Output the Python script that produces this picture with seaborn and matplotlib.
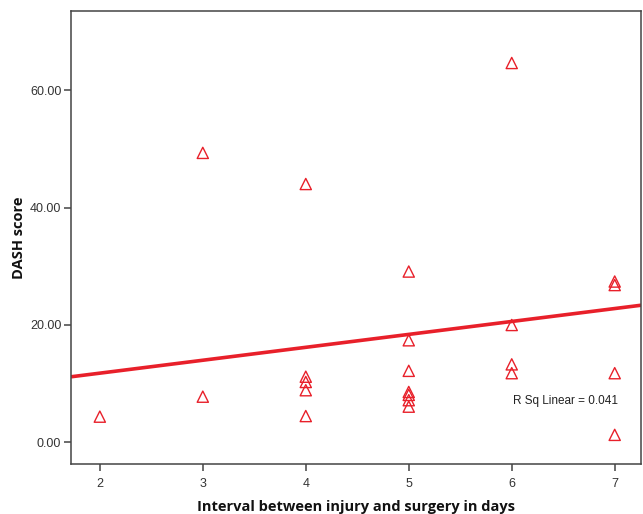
import matplotlib
matplotlib.use("Agg")
import matplotlib.pyplot as plt
import seaborn as sns
import numpy as np
import pandas as pd

# Data
interval_days = [2,
                 3, 3,
                 4, 4, 4, 4, 4,
                 5, 5, 5, 5, 5, 5, 5,
                 6, 6, 6, 6,
                 7, 7, 7, 7]
dash_score = [4.4,
              49.3, 7.8,
              44.0, 11.2, 10.3, 8.9, 4.5,
              29.1, 17.4, 12.2, 8.6, 8.1, 7.2, 6.1,
              64.6, 20.0, 13.3, 11.8,
              27.4, 26.8, 11.8, 1.3]
fit_intercept = 7.4
fit_slope = 2.2
r_sq_text = "R Sq Linear = 0.041"
x_ticks = [2, 3, 4, 5, 6, 7]
y_ticks = [0, 20, 40, 60]

df = pd.DataFrame({"interval": interval_days, "dash": dash_score})

sns.set_style("white")
plt.rcParams['font.family'] = ['Liberation Sans', 'DejaVu Sans']

red = "#e8202a"
fig = plt.figure(figsize=(6.43, 5.14), dpi=100)
ax = fig.add_axes([0.1104, 0.0973, 0.8866, 0.8813])

xlim = (1.72, 7.256)
ylim = (-3.66, 73.45)

# fit line across full axis
xs = np.array(xlim)
ax.plot(xs, fit_intercept + fit_slope * xs, color=red, lw=2.6, zorder=2,
        solid_capstyle='butt')

sns.scatterplot(data=df, x="interval", y="dash", marker="^", s=65,
                facecolor="none", edgecolor=red, linewidth=1.0, ax=ax, zorder=3)

ax.set_xlim(*xlim)
ax.set_ylim(*ylim)
ax.set_xticks(x_ticks)
ax.set_xticklabels([str(t) for t in x_ticks])
ax.set_yticks(y_ticks)
ax.set_yticklabels([f"{t:.2f}" for t in y_ticks])

for s in ax.spines.values():
    s.set_color("#444444")
    s.set_linewidth(1.1)
    s.set_visible(True)

ax.tick_params(axis='both', direction='out', length=5, width=1.1, color="#444444",
               labelsize=9, labelcolor="#333333")
ax.tick_params(axis='y', left=True, pad=2)
ax.tick_params(axis='x', bottom=True, pad=5)

ax.set_xlabel("Interval between injury and surgery in days", fontsize=10.5,
              fontweight='bold', family=['Open Sans', 'DejaVu Sans'], labelpad=7,
              color="#111111")
ax.set_ylabel("DASH score", fontsize=10.5, fontweight='bold',
              family=['Open Sans', 'DejaVu Sans'], labelpad=3, color="#111111")

ax.text(7.03, 7.06, r_sq_text, ha='right', va='center', fontsize=8.5, color="#222222")

fig.savefig("out.png", dpi=100)
